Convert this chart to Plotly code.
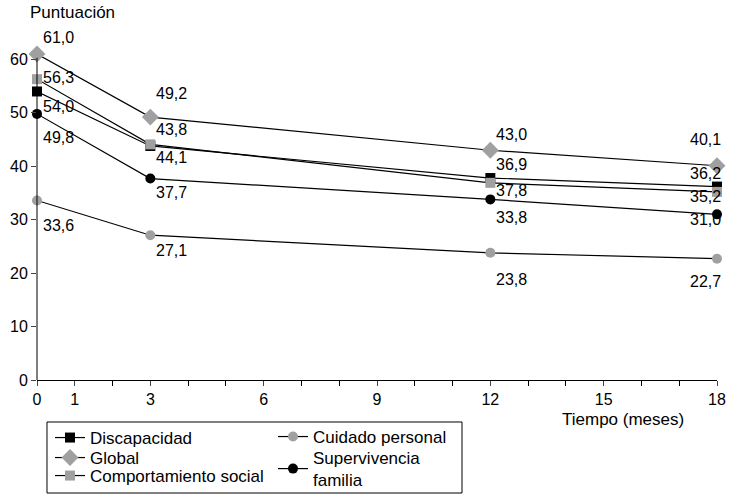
import plotly.graph_objects as go

meses = [0, 3, 12, 18]
discapacidad = [54.0, 43.8, 37.8, 36.2]
glob = [61.0, 49.2, 43.0, 40.1]
comportamiento = [56.3, 44.1, 36.9, 35.2]
cuidado = [33.6, 27.1, 23.8, 22.7]
supervivencia = [49.8, 37.7, 33.8, 31.0]

x_ticks = [0, 1, 3, 6, 9, 12, 15, 18]
y_ticks = [0, 10, 20, 30, 40, 50, 60]

gris = "#a0a0a0"
num = dict(family="Liberation Sans, Arial, sans-serif", size=16, color="black")
txt = dict(family="Liberation Sans, Arial, sans-serif", size=17, color="black")

# name, values, colour, symbol, size, legend slot
series = [
    ("Discapacidad", discapacidad, "black", "square", 10, "legend"),
    ("Global", glob, gris, "diamond", 13, "legend2"),
    ("Comportamiento social", comportamiento, gris, "square", 10, "legend3"),
    ("Cuidado personal", cuidado, gris, "circle", 10, "legend4"),
    ("Supervivencia<br>familia", supervivencia, "black", "circle", 10, "legend5"),
]

# label offsets in px (up is positive), one per point
desplaz = [
    [-15, 16, -12, 13],
    [17, 24, 16, 26],
    [2, -13, 18, -5],
    [-25, -15, -27, -23],
    [-24, -14, -18, -5],
]

fig = go.Figure()
for nombre, vals, color, simbolo, tam, leg in series:
    fig.add_trace(go.Scatter(
        x=meses, y=vals, name=nombre, mode="lines+markers",
        line=dict(color="black", width=1.2),
        marker=dict(color=color, symbol=simbolo, size=tam),
        cliponaxis=False, legend=leg,
    ))

anotaciones = []
for (nombre, vals, *_), offs in zip(series, desplaz):
    for mx, v, dy in zip(meses, vals, offs):
        derecha = mx == meses[-1]
        anotaciones.append(dict(
            x=mx, y=v, xref="x", yref="y", showarrow=False,
            text=f"{v:.1f}".replace(".", ","),
            xanchor="right" if derecha else "left",
            xshift=6 if derecha else 4, yshift=dy, font=num,
        ))

anotaciones.append(dict(x=-0.013, y=1.125, xref="paper", yref="paper", text="Puntuación",
                        showarrow=False, xanchor="left", yanchor="middle", font=txt))
anotaciones.append(dict(x=0.954, y=-0.122, xref="paper", yref="paper", text="Tiempo (meses)",
                        showarrow=False, xanchor="right", yanchor="middle", font=txt))

def leyenda(px, py):
    return dict(xref="container", yref="container", x=px / 730, y=1 - py / 495,
                xanchor="left", yanchor="middle", bgcolor="rgba(0,0,0,0)",
                font=txt, itemwidth=30, borderwidth=0)

fig.update_layout(
    width=730, height=495,
    margin=dict(l=37, r=13, t=53, b=115, autoexpand=False),
    plot_bgcolor="white", paper_bgcolor="white",
    font=num,
    showlegend=True,
    annotations=anotaciones,
    xaxis=dict(range=[0, 18], tickvals=x_ticks, ticks="outside", ticklen=5,
               showline=True, linecolor="black", linewidth=1, showgrid=False,
               zeroline=False, tickfont=num, automargin=False,
               minor=dict(ticks="outside", dtick=1, ticklen=5, tickcolor="black")),
    yaxis=dict(range=[0, 61.2], tickvals=y_ticks, ticks="outside", ticklen=5,
               showline=False, showgrid=False, zeroline=False, tickfont=num,
               automargin=False),
    legend=leyenda(50, 438),
    legend2=leyenda(50, 458),
    legend3=leyenda(50, 476),
    legend4=leyenda(273, 437),
    legend5=leyenda(273, 469),
    shapes=[
        dict(type="line", xref="paper", yref="y", x0=0, x1=0, y0=0, y1=60.3,
             line=dict(color="black", width=1)),
        dict(type="rect", xref="paper", yref="paper", x0=0.0147, x1=0.625,
             y0=-0.1284, y1=-0.3456, line=dict(color="black", width=1)),
    ],
)

# the page body has an 8px default margin; drop it so the figure sits at 0,0
fig.write_html("out.html", config={"displayModeBar": False},
               post_script="document.body.style.margin='0';")
